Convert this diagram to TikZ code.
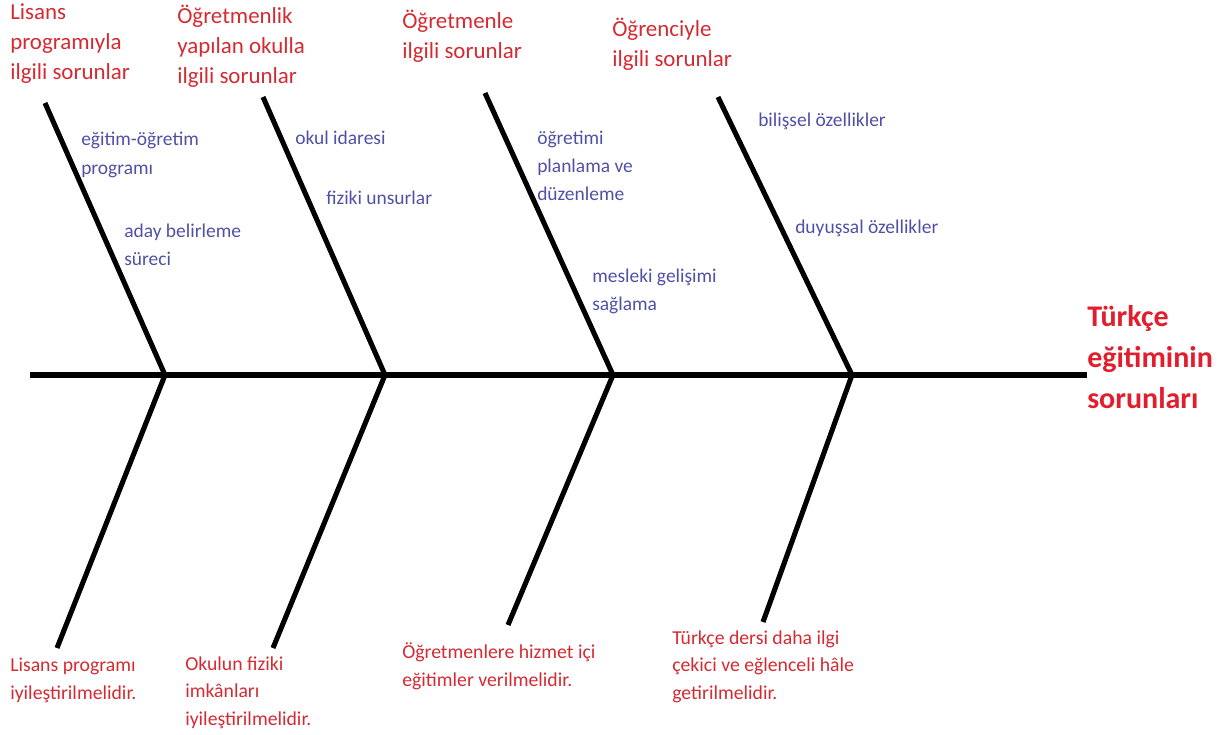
\documentclass[tikz,border=0pt]{standalone}
\usepackage{fontspec}
\setmainfont{Carlito}
\usetikzlibrary{calc,positioning}
\definecolor{causered}{RGB}{212,42,50}
\definecolor{effectred}{RGB}{226,30,45}
\definecolor{subblue}{RGB}{80,80,166}

\begin{document}
\begin{tikzpicture}[x=0.75pt,y=-0.75pt,
		bone/.style={line width=3.8pt},
		cause/.style={anchor=base west, inner sep=0pt, align=left, text=causered, font=\fontsize{17.2}{22.5}\selectfont},
		factor/.style={anchor=base west, inner sep=0pt, align=left, text=subblue, font=\fontsize{14.6}{21}\selectfont},
		remedy/.style={anchor=base west, inner sep=0pt, align=left, text=causered, font=\fontsize{14.8}{20.5}\selectfont},
		effect/.style={anchor=base west, inner sep=0pt, align=left, text=effectred, font=\bfseries\fontsize{22.5}{30.75}\selectfont}
	]
		\useasboundingbox (0,0) rectangle (1229,735);

		\node[effect] (problem) at (1087,408) {Türkçe\\eğitiminin\\sorunları};

		\coordinate (tail) at (30,375);
		\coordinate (j1) at (165,375);
		\coordinate (j2) at (385,375);
		\coordinate (j3) at (613,375);
		\coordinate (j4) at (852,375);
		\coordinate (t1) at (45,103);
		\coordinate (t2) at (263,97);
		\coordinate (t3) at (485,93);
		\coordinate (t4) at (718,97);
		\coordinate (b1) at (57,648);
		\coordinate (b2) at (273,648);
		\coordinate (b3) at (508,625);
		\coordinate (b4) at (763,622);

		\draw[bone] (tail) -- (tail -| problem.west);
		\draw[bone] (t1) -- (j1) -- (b1);
		\draw[bone] (t2) -- (j2) -- (b2);
		\draw[bone] (t3) -- (j3) -- (b3);
		\draw[bone] (t4) -- (j4) -- (b4);

		\node[cause] (lisans) at (10,80) {Lisans\\programıyla\\ilgili sorunlar};
		\node[cause] (okul) at (177,84) {Öğretmenlik\\yapılan okulla\\ilgili sorunlar};
		\node[cause] (ogretmen) at (402,59) {Öğretmenle\\ilgili sorunlar};
		\node[cause] (ogrenci) at (612,67) {Öğrenciyle\\ilgili sorunlar};

		\node[factor] (program) at (81,174) {eğitim-öğretim\\programı};
		\node[factor] (aday) at (124,265) {aday belirleme\\süreci};
		\node[factor] (idare) at (295,144) {okul idaresi};
		\node[factor] (fiziki) at (326,204) {fiziki unsurlar};
		\node[factor] (planlama) at (537,200) {öğretimi\\planlama ve\\düzenleme};
		\node[factor] (gelisim) at (592,310) {mesleki gelişimi\\sağlama};
		\node[factor] (bilissel) at (758,127) {bilişsel özellikler};
		\node[factor] (duyussal) at (795,233) {duyuşsal özellikler};

		\node[remedy] (oneri1) at (10,699) {Lisans programı\\iyileştirilmelidir.};
		\node[remedy] (oneri2) at (185,725) {Okulun fiziki\\imkânları\\iyileştirilmelidir.};
		\node[remedy] (oneri3) at (402,686) {Öğretmenlere hizmet içi\\eğitimler verilmelidir.};
		\node[remedy] (oneri4) at (672,699) {Türkçe dersi daha ilgi\\çekici ve eğlenceli hâle\\getirilmelidir.};
	\end{tikzpicture}
\end{document}
